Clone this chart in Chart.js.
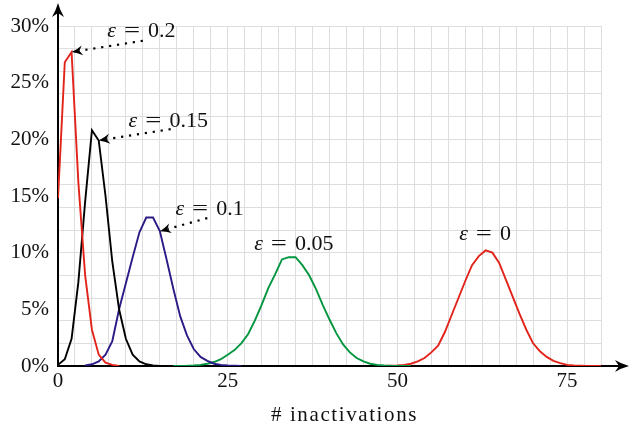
<!DOCTYPE html>
<html>
<head>
<meta charset="utf-8">
<script src="https://cdn.jsdelivr.net/npm/chart.js@4.4.0/dist/chart.umd.min.js"></script>
<style>
  html, body { margin: 0; padding: 0; background: #fff; }
  canvas { display: block; }
</style>
</head>
<body>
<canvas id="c" width="630" height="430"></canvas>
<script>
// Distribution of the number of inactivations (in %) for several noise levels ε.
// Each series starts at the inactivation count given by its *Start constant.
const eps020Start = 0;
const eps020 = [14.8, 26.8, 27.7, 16.2, 8.0, 3.2, 1.0, 0.3, 0.1, 0];

const eps015Start = 0;
const eps015 = [0.1, 0.6, 2.4, 7.4, 14.5, 20.8, 19.9, 15.0, 9.2, 5.0, 2.4, 1.0, 0.4, 0.15, 0.05, 0];

const eps010Start = 4;
const eps010 = [0.05, 0.15, 0.4, 1.0, 2.2, 5.0, 7.3, 9.6, 11.8, 13.1, 13.1, 11.9, 9.4, 6.8,
                4.4, 2.7, 1.5, 0.8, 0.45, 0.2, 0.1, 0.05, 0.02, 0];

const eps005Start = 17;
const eps005 = [0, 0.01, 0.02, 0.05, 0.1, 0.2, 0.35, 0.6, 1.0, 1.4, 2.0, 2.8, 4.0, 5.4, 6.9, 8.1,
                9.4, 9.6, 9.6, 8.9, 8.0, 6.8, 5.4, 4.1, 2.9, 1.9, 1.2, 0.7, 0.4, 0.2, 0.1, 0.05,
                0.02, 0.01, 0, 0];

const eps000Start = 48;
const eps000 = [0, 0.02, 0.05, 0.1, 0.2, 0.4, 0.7, 1.2, 1.8, 3.0, 4.5, 6.0, 7.5, 8.9, 9.7, 10.2,
                10.0, 9.1, 7.6, 6.1, 4.6, 3.2, 2.0, 1.3, 0.8, 0.45, 0.25, 0.1, 0.05, 0.02, 0, 0, 0];

const xTickLabels = [0, 25, 50, 75];
const yTickLabels = [0, 5, 10, 15, 20, 25, 30];
const xAxisTitle = '# inactivations';

// ---- presentation ----
const SERIF = '"Liberation Serif", "Times New Roman", serif';
const RED = '#e2231a', BLACK = '#000000', BLUE = '#2c1a86', GREEN = '#00953e';
const GRID = '#dddddd';
const X_MAX = 80, Y_MAX = 30, X_GRID_STEP = 2.5, Y_GRID_STEP = 2;

function toPoints(start, values) {
  return values.map((v, i) => ({ x: start + i, y: v }));
}

// Callout labels: text anchor (left, baseline) and optional dotted arrow
// from a tail position to one point of the series, all in data units.
const callouts = [
  { label: '0.2',  at: [7.25, 29.0],  tail: [12.5, 28.7], series: eps020, start: eps020Start, idx: 2 },
  { label: '0.15', at: [10.4, 21.1], tail: [16.6, 20.9], series: eps015, start: eps015Start, idx: 6 },
  { label: '0.1',  at: [17.3, 13.35], tail: [22.0, 13.05], series: eps010, start: eps010Start, idx: 15 },
  { label: '0.05', at: [28.9, 10.2] },
  { label: '0',    at: [59.1, 11.15] }
];

function stealth(ctx, tx, ty, ux, uy, len, half) {
  // filled arrowhead with a notched back, tip at (tx,ty) pointing along (ux,uy)
  const px = -uy, py = ux;
  const bx = tx - ux * len, by = ty - uy * len;
  const nx = tx - ux * len * 0.72, ny = ty - uy * len * 0.72;
  ctx.beginPath();
  ctx.moveTo(tx, ty);
  ctx.quadraticCurveTo(tx - ux * len * 0.55 + px * half * 0.35, ty - uy * len * 0.55 + py * half * 0.35,
                       bx + px * half, by + py * half);
  ctx.lineTo(nx, ny);
  ctx.lineTo(bx - px * half, by - py * half);
  ctx.quadraticCurveTo(tx - ux * len * 0.55 - px * half * 0.35, ty - uy * len * 0.55 - py * half * 0.35,
                       tx, ty);
  ctx.closePath();
  ctx.fill();
}

function drawEps(ctx, x, y, num) {
  ctx.fillStyle = '#111';
  ctx.textBaseline = 'alphabetic';
  ctx.textAlign = 'left';
  ctx.font = 'italic 22px ' + SERIF;
  ctx.fillText('ε', x, y);
  let cx = x + ctx.measureText('ε').width + 8;
  ctx.font = '22px ' + SERIF;
  ctx.save();
  ctx.scale(1.3, 1);
  ctx.fillText('=', cx / 1.3, y);
  ctx.restore();
  cx += ctx.measureText('=').width * 1.3 + 8;
  ctx.fillText(num, cx, y);
}

const axesPlugin = {
  id: 'axesWithArrows',
  beforeDatasetsDraw(chart) {
    const { ctx, chartArea: a } = chart;
    const topTip = 3, rightTip = 629;
    ctx.save();
    ctx.strokeStyle = '#000';
    ctx.fillStyle = '#000';
    ctx.lineWidth = 2;
    ctx.beginPath();
    ctx.moveTo(a.left, a.bottom + 1);
    ctx.lineTo(a.left, topTip + 8);
    ctx.stroke();
    ctx.beginPath();
    ctx.moveTo(a.left - 1, a.bottom);
    ctx.lineTo(rightTip - 8, a.bottom);
    ctx.stroke();
    stealth(ctx, a.left, topTip, 0, -1, 14, 6);
    stealth(ctx, rightTip, a.bottom, 1, 0, 14, 6);

    // axis title, centred under the full horizontal axis line
    ctx.fillStyle = '#111';
    ctx.font = '21px ' + SERIF;
    ctx.textAlign = 'center';
    ctx.textBaseline = 'alphabetic';
    if ('letterSpacing' in ctx) ctx.letterSpacing = '1.6px';
    ctx.fillText(xAxisTitle, (a.left + rightTip) / 2 + 1, 421);
    ctx.restore();
  },
  afterDatasetsDraw(chart) {
    const { ctx } = chart;
    const xs = chart.scales.x, ys = chart.scales.y;
    ctx.save();
    callouts.forEach(c => {
      if (c.series) {
        const tipX = xs.getPixelForValue(c.idx);
        const tipY = ys.getPixelForValue(c.series[c.idx - c.start]);
        const tX = xs.getPixelForValue(c.tail[0]);
        const tY = ys.getPixelForValue(c.tail[1]);
        const dx = tipX - tX, dy = tipY - tY;
        const d = Math.hypot(dx, dy);
        const ux = dx / d, uy = dy / d;
        ctx.strokeStyle = '#000';
        ctx.lineWidth = 2.2;
        ctx.setLineDash([2.2, 5.8]);
        ctx.beginPath();
        ctx.moveTo(tX, tY);
        ctx.lineTo(tipX - ux * 8, tipY - uy * 8);
        ctx.stroke();
        ctx.setLineDash([]);
        ctx.fillStyle = '#000';
        stealth(ctx, tipX, tipY, ux, uy, 11, 5);
      }
      drawEps(ctx, xs.getPixelForValue(c.at[0]), ys.getPixelForValue(c.at[1]), c.label);
    });
    ctx.restore();
  }
};

// grid every 2 %, labels every 5 %
const yGridValues = [];
for (let v = 0; v <= Y_MAX; v += Y_GRID_STEP) yGridValues.push(v);
const yAllTicks = Array.from(new Set(yGridValues.concat(yTickLabels))).sort((a, b) => a - b);

const lineStyle = (color, order) => ({
  borderColor: color, backgroundColor: color, borderWidth: 1.9,
  pointRadius: 0, tension: 0, fill: false, order
});

new Chart(document.getElementById('c'), {
  type: 'line',
  data: {
    datasets: [
      { label: 'ε = 0.2',  data: toPoints(eps020Start, eps020), ...lineStyle(RED, 1) },
      { label: 'ε = 0.15', data: toPoints(eps015Start, eps015), ...lineStyle(BLACK, 2) },
      { label: 'ε = 0.1',  data: toPoints(eps010Start, eps010), ...lineStyle(BLUE, 3) },
      { label: 'ε = 0.05', data: toPoints(eps005Start, eps005), ...lineStyle(GREEN, 4) },
      { label: 'ε = 0',    data: toPoints(eps000Start, eps000), ...lineStyle(RED, 5) }
    ]
  },
  options: {
    responsive: false,
    devicePixelRatio: 1,
    animation: false,
    layout: { padding: { top: 26, right: 29, left: 0, bottom: 0 } },
    plugins: { legend: { display: false }, tooltip: { enabled: false } },
    scales: {
      x: {
        type: 'linear', min: 0, max: X_MAX,
        border: { display: false },
        grid: { color: GRID, lineWidth: 1, drawTicks: false },
        ticks: {
          stepSize: X_GRID_STEP, autoSkip: false, maxRotation: 0, padding: 3,
          color: '#111', font: { family: SERIF, size: 21 },
          callback: v => (xTickLabels.includes(v) ? String(v) : '')
        },
        afterFit: s => { s.height = 64; }
      },
      y: {
        type: 'linear', min: 0, max: Y_MAX,
        border: { display: false },
        grid: {
          drawTicks: false, lineWidth: 1,
          color: c => (c.tick && c.tick.value % Y_GRID_STEP === 0 ? GRID : 'rgba(0,0,0,0)')
        },
        afterBuildTicks: s => { s.ticks = yAllTicks.map(v => ({ value: v })); },
        ticks: {
          autoSkip: false, padding: 9, color: '#111', font: { family: SERIF, size: 21 },
          callback: v => (yTickLabels.includes(v) ? v + '%' : '')
        },
        afterFit: s => { s.width = 58; }
      }
    }
  },
  plugins: [axesPlugin]
});
</script>
</body>
</html>
